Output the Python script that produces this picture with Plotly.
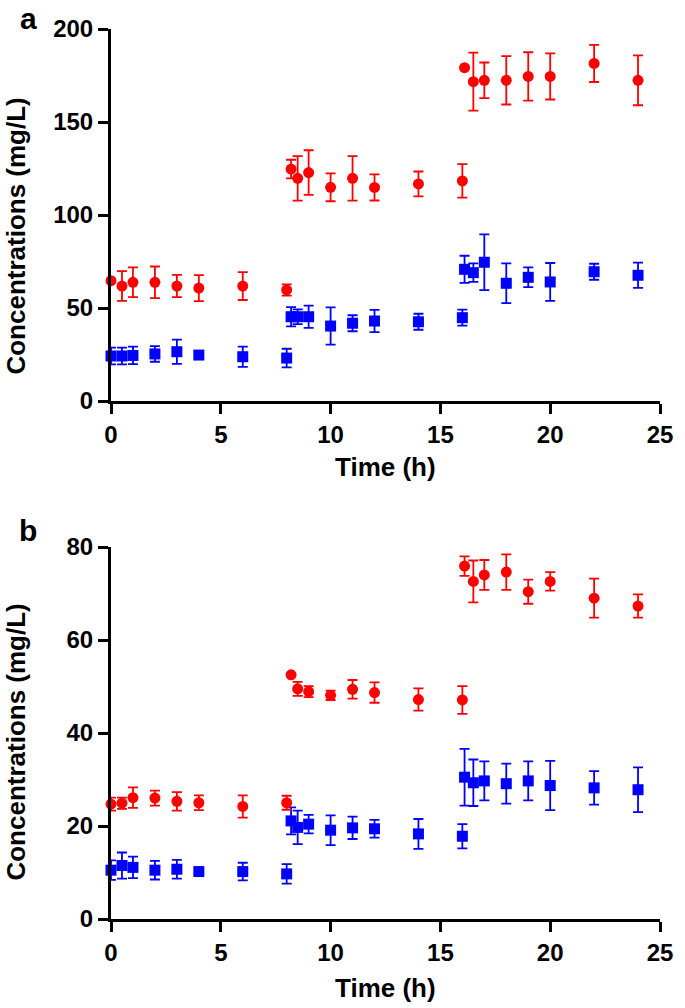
import plotly.graph_objects as go

# ---------------- data ----------------
time_red_a = [0, 0.5, 1, 2, 3, 4, 6, 8, 8.2, 8.5, 9, 10, 11, 12, 14, 16, 16.1, 16.5, 17, 18, 19, 20, 22, 24]
red_a = [64.7, 61.8, 63.8, 63.8, 61.8, 60.7, 61.8, 59.7, 124.7, 119.7, 122.8, 114.9, 119.7, 114.8, 116.7, 118.3, 179.2, 171.7, 172.4, 172.4, 174.5, 174.5, 181.5, 172.4]
red_a_sd = [0, 8, 8, 8.5, 6, 7, 7.5, 3, 5, 12, 12, 7.5, 12, 7, 6.7, 9, 0, 15.6, 9.6, 13, 13, 12.4, 10, 13.4]

time_blue_a = [0, 0.5, 1, 2, 3, 4, 6, 8, 8.2, 8.5, 9, 10, 11, 12, 14, 16, 16.1, 16.5, 17, 18, 19, 20, 22, 24]
blue_a = [24.2, 24.2, 24.5, 25.3, 26.5, 24.7, 23.8, 23.1, 45.3, 45.3, 45.3, 40.3, 41.8, 43.0, 42.6, 44.8, 70.8, 69.0, 74.6, 63.3, 66.5, 64.0, 69.5, 67.6]
blue_a_sd = [4.5, 4.5, 4.7, 4.2, 6.5, 1.5, 5.4, 5.0, 5.2, 4.0, 6.0, 10.0, 4.3, 6.0, 4.3, 4.3, 7.3, 5.0, 15.0, 10.7, 5.3, 10.2, 4.3, 6.8]

time_red_b = [0, 0.5, 1, 2, 3, 4, 6, 8, 8.2, 8.5, 9, 10, 11, 12, 14, 16, 16.1, 16.5, 17, 18, 19, 20, 22, 24]
red_b = [24.7, 24.9, 26.1, 26.0, 25.3, 25.0, 24.2, 25.0, 52.5, 49.5, 48.9, 48.1, 49.4, 48.7, 47.2, 47.1, 75.9, 72.6, 74.0, 74.6, 70.4, 72.6, 69.0, 67.3]
red_b_sd = [1.4, 1.2, 2.2, 1.6, 2.0, 1.6, 2.4, 1.5, 0, 1.5, 1.2, 1.0, 2.0, 2.2, 2.4, 3.0, 2.1, 4.5, 3.2, 3.8, 2.6, 2.0, 4.2, 2.5]

time_blue_b = [0, 0.5, 1, 2, 3, 4, 6, 8, 8.2, 8.5, 9, 10, 11, 12, 14, 16, 16.1, 16.5, 17, 18, 19, 20, 22, 24]
blue_b = [10.5, 11.5, 11.1, 10.5, 10.7, 10.2, 10.2, 9.7, 21.1, 19.7, 20.4, 19.1, 19.6, 19.4, 18.3, 17.8, 30.5, 29.3, 29.7, 29.1, 29.7, 28.7, 28.2, 27.8]
blue_b_sd = [2.1, 2.8, 2.3, 2.0, 2.0, 0.8, 1.9, 2.1, 2.9, 3.6, 2.0, 3.2, 2.4, 1.9, 3.2, 2.6, 6.1, 5.0, 4.2, 4.3, 4.2, 5.3, 3.6, 4.8]

x_ticks = [0, 5, 10, 15, 20, 25]
y_ticks_a = [0, 50, 100, 150, 200]
y_ticks_b = [0, 20, 40, 60, 80]

RED = "#FF0000"
BLUE = "#0000FF"
FONT = "Liberation Sans, Arial, Helvetica, sans-serif"

fig = go.Figure()


def add_series(x, y, sd, color, symbol, xa, ya):
    fig.add_trace(go.Scatter(
        x=x, y=y, mode="markers", xaxis=xa, yaxis=ya,
        marker=dict(color=color, symbol=symbol, size=11, line=dict(width=0)),
        error_y=dict(type="data", array=sd, visible=True, color=color,
                     thickness=1.8, width=5),
        cliponaxis=False, showlegend=False,
    ))


add_series(time_blue_a, blue_a, blue_a_sd, BLUE, "square", "x", "y")
add_series(time_red_a, red_a, red_a_sd, RED, "circle", "x", "y")
add_series(time_blue_b, blue_b, blue_b_sd, BLUE, "square", "x2", "y2")
add_series(time_red_b, red_b, red_b_sd, RED, "circle", "x2", "y2")

W, H = 685, 1008
L, R, T, B = 111, 16, 29, 89
pw, ph = W - L - R, H - T - B


def px(x):
    return (x - L) / pw


def py(y):
    return (H - B - y) / ph


axis_common = dict(
    showline=True, linecolor="black", linewidth=3,
    ticks="outside", ticklen=10, tickwidth=3, tickcolor="black",
    showgrid=False, zeroline=False, mirror=False,
    tickfont=dict(family=FONT, size=24, color="black", weight="bold"),
)

fig.update_layout(
    width=W, height=H,
    margin=dict(l=L, r=R, t=T, b=B),
    paper_bgcolor="white", plot_bgcolor="white",
    xaxis=dict(domain=[0, 1], anchor="y", range=[0, 25], tickvals=x_ticks, **axis_common),
    yaxis=dict(domain=[py(401), 1], anchor="x", range=[0, 200], tickvals=y_ticks_a, **axis_common),
    xaxis2=dict(domain=[0, 1], anchor="y2", range=[0, 25], tickvals=x_ticks, **axis_common),
    yaxis2=dict(domain=[0, py(547)], anchor="x2", range=[0, 80], tickvals=y_ticks_b, **axis_common),
)

title_font = dict(family=FONT, size=26, color="black", weight="bold")
label_font = dict(family=FONT, size=30, color="black", weight="bold")

annots = [
    dict(text="Concentrations (mg/L)", x=px(14), y=py(236), textangle=-90, font=title_font),
    dict(text="Concentrations (mg/L)", x=px(14), y=py(742), textangle=-90, font=title_font),
    dict(text="Time (h)", x=px(390), y=py(467), font=title_font),
    dict(text="Time (h)", x=px(390), y=py(988), font=title_font),
    dict(text="a", x=px(27), y=py(18), font=label_font),
    dict(text="b", x=px(27), y=py(530), font=label_font),
]
for a in annots:
    fig.add_annotation(xref="paper", yref="paper", showarrow=False,
                       xanchor="center", yanchor="middle", **a)

fig.write_html("out.html", config={"displayModeBar": False},
               post_script="document.body.style.margin='0';document.body.style.padding='0';")
